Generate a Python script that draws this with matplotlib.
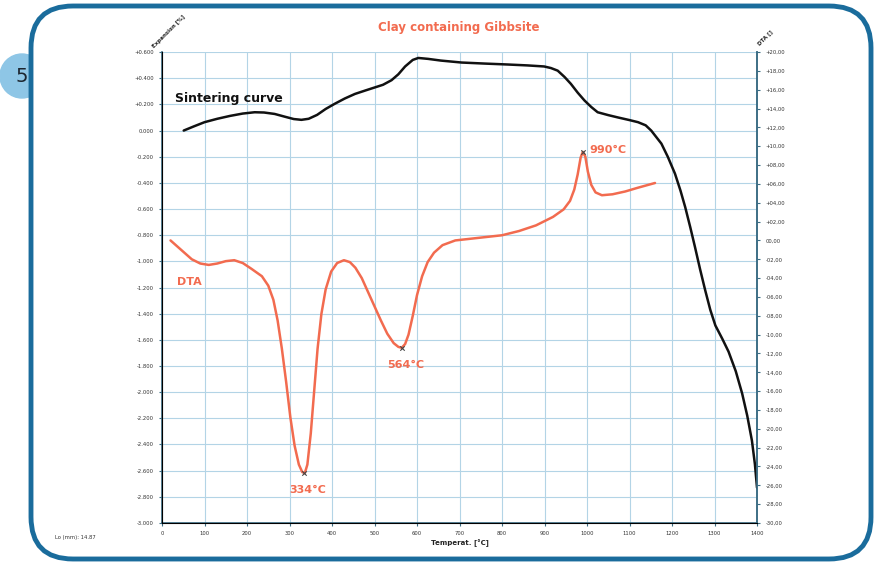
""" Dilatometer sintering curve with DTA trace for a clay containing gibbsite """

import matplotlib
matplotlib.use('Agg')
import matplotlib.pyplot as plt
from matplotlib.patches import FancyBboxPatch, Circle
from matplotlib.ticker import FuncFormatter

plt.rcParams['font.family'] = ['DejaVu Sans']

# Sintering curve, expansion [%] against temperature [°C]
sinter_temp = [51, 75, 100, 130, 160, 190, 218, 240, 265, 290, 310, 328,
               345, 365, 385, 406, 430, 454, 480, 501, 520, 540, 556, 572,
               590, 603, 626, 656, 705, 760, 813, 860, 899, 915, 931, 947,
               962, 978, 994, 1010, 1025, 1050, 1073, 1100, 1120, 1138, 1151,
               1163, 1175, 1190, 1207, 1220, 1231, 1243, 1254, 1266, 1278,
               1290, 1302, 1318, 1333, 1350, 1365, 1377, 1388, 1395, 1400]
sinter_exp = [0.0, 0.032, 0.064, 0.09, 0.112, 0.13, 0.14, 0.138, 0.127,
              0.105, 0.088, 0.082, 0.09, 0.12, 0.165, 0.204, 0.245, 0.28,
              0.308, 0.33, 0.35, 0.385, 0.43, 0.49, 0.54, 0.555, 0.548,
              0.535, 0.52, 0.512, 0.505, 0.498, 0.49, 0.478, 0.458, 0.41,
              0.357, 0.29, 0.23, 0.18, 0.14, 0.118, 0.10, 0.08, 0.064, 0.04,
              0.0, -0.05, -0.10, -0.2, -0.33, -0.46, -0.585, -0.74, -0.89,
              -1.06, -1.22, -1.37, -1.49, -1.59, -1.69, -1.84, -2.01, -2.18,
              -2.37, -2.55, -2.73]

# DTA trace
dta_temp = [20, 35, 50, 70, 90, 110, 130, 150, 170, 190, 210, 235, 250, 262,
            272, 282, 292, 302, 312, 322, 330, 336, 342, 350, 358, 366, 375,
            385, 398, 412, 428, 442, 455, 470, 485, 500, 515, 530, 545, 556,
            564, 572, 580, 590, 600, 612, 625, 640, 660, 690, 740, 800, 840,
            880, 920, 945, 960, 970, 978, 985, 990, 996, 1002, 1010, 1020,
            1035, 1060, 1090, 1120, 1160]
dta_val = [0.0, -0.6, -1.2, -2.0, -2.45, -2.6, -2.45, -2.2, -2.1, -2.4,
           -3.0, -3.8, -4.8, -6.3, -8.5, -11.5, -15.0, -18.8, -21.8, -23.8,
           -24.6, -24.7, -23.8, -20.5, -16.0, -11.5, -7.8, -5.2, -3.3, -2.4,
           -2.1, -2.3, -2.9, -4.0, -5.5, -7.0, -8.5, -9.9, -10.9, -11.3,
           -11.4, -11.0, -10.0, -8.0, -5.8, -3.8, -2.3, -1.3, -0.5, 0.0,
           0.25, 0.55, 1.0, 1.6, 2.5, 3.3, 4.2, 5.4, 7.0, 8.8, 9.4, 8.9, 7.3,
           5.9, 5.1, 4.8, 4.9, 5.2, 5.6, 6.1]

# Marked DTA peaks
peak_temp = [334, 564, 990]
peak_val = [-24.7, -11.4, 9.4]
peak_labels = ['334°C', '564°C', '990°C']

x_ticks = list(range(0, 1401, 100))
left_ticks = [round(-3.0 + 0.2 * i, 1) for i in range(19)]
right_ticks = list(range(-30, 21, 2))

red = '#f26b4f'
grid_blue = '#b3d4e6'
spine_blue = '#3d6e85'
frame_blue = '#1a6c9c'

fig = plt.figure(figsize=(8.82, 5.66), dpi=100)

# Background panel with the rounded frame, drawn in pixel units
bg = fig.add_axes([0, 0, 1, 1], zorder=-5)
bg.set_xlim(0, 882)
bg.set_ylim(566, 0)
bg.axis('off')
bg.add_patch(Circle((22, 76), 22, color='#8ec6e6', zorder=1))
bg.text(22, 76, '5', fontsize=14, ha='center', va='center',
        color='#1c2630', zorder=2)
bg.add_patch(FancyBboxPatch((31, 6), 840, 553,
                            boxstyle='round,pad=0,rounding_size=42',
                            facecolor='white', edgecolor=frame_blue,
                            linewidth=3.5, zorder=3))
bg.text(55, 537, 'Lo (mm): 14.87', fontsize=3.8, color='#333333',
        va='center', zorder=4)

ax = fig.add_axes([0.1837, 0.076, 0.6746, 0.832])
ax.set_facecolor('none')
ax.plot(sinter_temp, sinter_exp, color='#111111', linewidth=1.8, zorder=4,
        solid_joinstyle='round', solid_capstyle='round')
ax.set_xlim(0, 1400)
ax.set_ylim(-3.0, 0.6)
ax.set_xticks(x_ticks)
ax.set_yticks(left_ticks)
ax.grid(True, color=grid_blue, linewidth=0.8)
ax.yaxis.set_major_formatter(FuncFormatter(
    lambda v, p: '0.000' if abs(v) < 1e-9 else f'{v:+.3f}'))
ax.tick_params(labelsize=3.8, length=2.5, colors=spine_blue,
               labelcolor='#333333')
for side in ['left', 'bottom', 'right']:
    ax.spines[side].set_color(spine_blue)
    ax.spines[side].set_linewidth(1.2)
ax.spines['top'].set_visible(False)
ax.text(30, 0.245, 'Sintering curve', fontsize=9, fontweight='bold',
        color='#111111', va='center')
ax.set_xlabel('Temperat. [°C]', fontsize=5, fontweight='bold',
              color='#222222', labelpad=2)

ax2 = ax.twinx()
ax2.plot(dta_temp, dta_val, color=red, linewidth=1.8, zorder=4,
         solid_joinstyle='round', solid_capstyle='round')
ax2.scatter(peak_temp, peak_val, marker='x', s=10, color='#444444',
            linewidths=0.8, zorder=5)
ax2.set_ylim(-30, 20)
ax2.set_yticks(right_ticks)
ax2.yaxis.set_major_formatter(FuncFormatter(
    lambda v, p: '00,00' if v == 0 else f'{v:+06.2f}'.replace('.', ',')))
ax2.tick_params(labelsize=3.8, length=2.5, colors=spine_blue,
                labelcolor='#333333')
ax2.spines['top'].set_visible(False)
ax2.spines['right'].set_color(spine_blue)
ax2.spines['right'].set_linewidth(1.2)
ax2.text(peak_temp[0] + 10, peak_val[0] - 1.8, peak_labels[0], color=red,
         fontsize=8, fontweight='bold', ha='center', va='center')
ax2.text(peak_temp[1] + 10, peak_val[1] - 1.8, peak_labels[1], color=red,
         fontsize=8, fontweight='bold', ha='center', va='center')
ax2.text(peak_temp[2] + 15, peak_val[2] + 0.2, peak_labels[2], color=red,
         fontsize=8, fontweight='bold', ha='left', va='center')
ax2.text(35, -4.4, 'DTA', color=red, fontsize=8, fontweight='bold',
         va='center')

fig.text(0.52, 0.952, 'Clay containing Gibbsite', color=red, fontsize=8.5,
         fontweight='bold', ha='center', va='center')
fig.text(0.176, 0.914, 'Expansion [%]', fontsize=4, fontweight='bold',
         rotation=45, ha='left', va='bottom', rotation_mode='anchor',
         color='#222222')
fig.text(0.862, 0.918, 'DTA []', fontsize=4, fontweight='bold',
         rotation=45, ha='left', va='bottom', rotation_mode='anchor',
         color='#222222')

fig.savefig('out.png', dpi=100)
